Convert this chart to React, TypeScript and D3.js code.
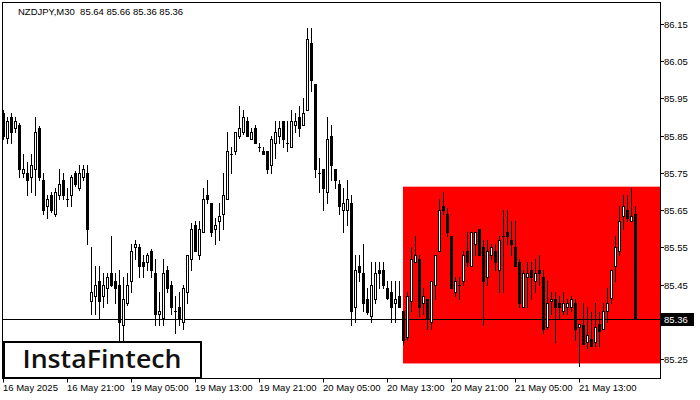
import React, { useEffect, useRef } from 'react';
import * as d3 from 'd3';

// header line
const title = 'NZDJPY,M30  85.64 85.66 85.36 85.36';

// M30 candles, 16 May 13:00 .. 21 May 14:00 (weekend gap after bar 21)
const opens = [
  85.91, 85.845, 85.90, 85.87, 85.88, 85.75, 85.75, 85.74, 85.76, 85.87,
  85.73, 85.66, 85.69, 85.64, 85.69, 85.73, 85.68, 85.69, 85.75, 85.71,
  85.74, 85.75, 85.405, 85.42, 85.46, 85.42, 85.44, 85.48, 85.46, 85.45,
  85.34, 85.40, 85.46, 85.55, 85.55, 85.51, 85.51, 85.54, 85.48, 85.37,
  85.36, 85.49, 85.45, 85.38, 85.39, 85.35, 85.43, 85.52, 85.61, 85.53,
  85.59, 85.69, 85.67, 85.60, 85.62, 85.64, 85.68, 85.80, 85.81, 85.85,
  85.86, 85.89, 85.84, 85.87, 85.82, 85.81, 85.81, 85.77, 85.83, 85.85,
  85.89, 85.83, 85.82, 85.88, 85.90, 85.88, 85.92, 86.10, 85.99, 85.75,
  85.76, 85.70, 85.85, 85.76, 85.72, 85.65, 85.65, 85.67, 85.39, 85.50,
  85.48, 85.41, 85.365, 85.41, 85.49, 85.49, 85.44, 85.43, 85.40, 85.42,
  85.38, 85.31, 85.405, 85.51, 85.52, 85.40, 85.41, 85.35, 85.45, 85.54,
  85.66, 85.64, 85.58, 85.43, 85.45, 85.46, 85.54, 85.50, 85.56, 85.60,
  85.55, 85.47, 85.53, 85.54, 85.49, 85.58, 85.59, 85.57, 85.55, 85.51,
  85.39, 85.47, 85.49, 85.46, 85.49, 85.47, 85.335, 85.405, 85.41, 85.40,
  85.38, 85.39, 85.39, 85.40, 85.335, 85.34, 85.295, 85.305, 85.295, 85.345,
  85.33, 85.38, 85.415, 85.50, 85.54, 85.635, 85.65, 85.62, 85.64,
];
const highs = [
  85.92, 85.90, 85.91, 85.90, 85.885, 85.80, 85.78, 85.80, 85.90, 85.875,
  85.75, 85.69, 85.70, 85.71, 85.76, 85.75, 85.71, 85.745, 85.755, 85.77,
  85.77, 85.77, 85.55, 85.50, 85.50, 85.48, 85.48, 85.58, 85.48, 85.49,
  85.47, 85.48, 85.56, 85.57, 85.56, 85.53, 85.535, 85.545, 85.52, 85.43,
  85.52, 85.50, 85.46, 85.42, 85.43, 85.45, 85.53, 85.615, 85.62, 85.62,
  85.71, 85.73, 85.67, 85.63, 85.67, 85.75, 85.86, 85.82, 85.86, 85.93,
  85.92, 85.90, 85.87, 85.88, 85.83, 85.82, 85.81, 85.85, 85.89, 85.89,
  85.89, 85.89, 85.92, 85.91, 85.93, 85.95, 86.14, 86.14, 85.99, 85.79,
  85.76, 85.90, 85.88, 85.76, 85.73, 85.71, 85.73, 85.69, 85.53, 85.53,
  85.56, 85.44, 85.51, 85.51, 85.51, 85.51, 85.46, 85.46, 85.46, 85.46,
  85.38, 85.43, 85.55, 85.58, 85.53, 85.44, 85.41, 85.46, 85.53, 85.68,
  85.70, 85.655, 85.58, 85.47, 85.47, 85.54, 85.59, 85.59, 85.59, 85.60,
  85.57, 85.57, 85.56, 85.56, 85.58, 85.65, 85.65, 85.62, 85.62, 85.52,
  85.49, 85.51, 85.51, 85.52, 85.53, 85.49, 85.46, 85.43, 85.43, 85.42,
  85.43, 85.41, 85.42, 85.41, 85.345, 85.40, 85.39, 85.375, 85.40, 85.375,
  85.40, 85.44, 85.49, 85.58, 85.66, 85.69, 85.69, 85.71, 85.66,
];
const lows = [
  85.84, 85.83, 85.83, 85.86, 85.74, 85.74, 85.69, 85.70, 85.69, 85.73,
  85.64, 85.63, 85.645, 85.635, 85.68, 85.68, 85.66, 85.66, 85.715, 85.705,
  85.73, 85.56, 85.37, 85.37, 85.36, 85.39, 85.40, 85.445, 85.40, 85.30,
  85.30, 85.395, 85.43, 85.52, 85.47, 85.47, 85.49, 85.47, 85.34, 85.34,
  85.34, 85.43, 85.37, 85.32, 85.34, 85.33, 85.40, 85.49, 85.54, 85.52,
  85.59, 85.67, 85.58, 85.56, 85.57, 85.60, 85.68, 85.75, 85.80, 85.845,
  85.855, 85.85, 85.84, 85.83, 85.81, 85.80, 85.75, 85.75, 85.79, 85.83,
  85.82, 85.81, 85.82, 85.86, 85.85, 85.88, 85.92, 85.97, 85.74, 85.70,
  85.65, 85.67, 85.73, 85.71, 85.64, 85.59, 85.61, 85.34, 85.35, 85.46,
  85.38, 85.37, 85.35, 85.40, 85.44, 85.44, 85.41, 85.35, 85.35, 85.39,
  85.29, 85.30, 85.38, 85.51, 85.365, 85.37, 85.33, 85.33, 85.41, 85.54,
  85.64, 85.58, 85.44, 85.42, 85.41, 85.45, 85.50, 85.50, 85.53, 85.53,
  85.34, 85.45, 85.52, 85.49, 85.43, 85.43, 85.56, 85.53, 85.50, 85.39,
  85.39, 85.39, 85.41, 85.43, 85.45, 85.32, 85.33, 85.37, 85.295, 85.36,
  85.37, 85.37, 85.38, 85.30, 85.23, 85.29, 85.28, 85.285, 85.285, 85.285,
  85.33, 85.35, 85.40, 85.46, 85.53, 85.60, 85.62, 85.62, 85.36,
];
const closes = [
  85.85, 85.89, 85.86, 85.89, 85.76, 85.76, 85.73, 85.77, 85.86, 85.74,
  85.65, 85.68, 85.65, 85.70, 85.72, 85.69, 85.68, 85.74, 85.72, 85.75,
  85.76, 85.60, 85.43, 85.45, 85.405, 85.45, 85.47, 85.45, 85.44, 85.35,
  85.41, 85.45, 85.54, 85.56, 85.50, 85.50, 85.53, 85.49, 85.37, 85.38,
  85.48, 85.44, 85.39, 85.38, 85.36, 85.44, 85.53, 85.60, 85.54, 85.60,
  85.68, 85.68, 85.59, 85.61, 85.635, 85.69, 85.81, 85.80, 85.86, 85.87,
  85.90, 85.85, 85.86, 85.83, 85.82, 85.80, 85.76, 85.84, 85.86, 85.87,
  85.84, 85.83, 85.89, 85.89, 85.87, 85.91, 86.11, 86.00, 85.76, 85.75,
  85.71, 85.84, 85.77, 85.73, 85.66, 85.67, 85.68, 85.38, 85.49, 85.485,
  85.40, 85.375, 85.45, 85.48, 85.48, 85.45, 85.415, 85.39, 85.41, 85.39,
  85.30, 85.42, 85.52, 85.53, 85.39, 85.42, 85.36, 85.46, 85.53, 85.65,
  85.65, 85.59, 85.44, 85.46, 85.45, 85.53, 85.51, 85.59, 85.59, 85.53,
  85.46, 85.54, 85.55, 85.51, 85.57, 85.58, 85.58, 85.56, 85.50, 85.40,
  85.48, 85.48, 85.47, 85.48, 85.48, 85.33, 85.40, 85.41, 85.39, 85.39,
  85.40, 85.40, 85.41, 85.33, 85.345, 85.29, 85.315, 85.285, 85.335, 85.325,
  85.38, 85.40, 85.49, 85.55, 85.62, 85.66, 85.63, 85.635, 85.36,
];

const timeLabels = [
  '16 May 2025', '16 May 21:00', '19 May 05:00', '19 May 13:00', '19 May 21:00',
  '20 May 05:00', '20 May 13:00', '20 May 21:00', '21 May 05:00', '21 May 13:00',
];
const timeLabelBars = [0, 16, 32, 48, 64, 80, 96, 112, 128, 144];
const priceTicks = [86.15, 86.05, 85.95, 85.85, 85.75, 85.65, 85.55, 85.45, 85.25];
const lastPrice = 85.36;
// red zone
const zoneStartBar = 100;
const zoneTop = 85.713;
const zoneBottom = 85.238;

const W = 700;
const H = 400;

const App: React.FC = () => {
  const ref = useRef<SVGSVGElement>(null);

  useEffect(() => {
    document.body.style.margin = '0';
    const svg = d3.select(ref.current);
    svg.selectAll('*').remove();

    const left = 2.5, right = 660.5, top = 2.5, bottom = 378.5;
    const font = '"Liberation Sans", Arial, sans-serif';

    const x = d3.scaleLinear().domain([0, opens.length - 1]).range([3.5, 3.5 + 4 * (opens.length - 1)]);
    const y = d3.scaleLinear().domain([85.25, 86.15]).range([359, 24]);
    const py = (v: number) => Math.round(y(v));

    svg.append('rect').attr('width', W).attr('height', H).attr('fill', '#fff');

    svg.append('defs').append('clipPath').attr('id', 'plot')
      .append('rect').attr('x', left).attr('y', top).attr('width', right - left).attr('height', bottom - top);

    const plot = svg.append('g').attr('clip-path', 'url(#plot)');

    // zone
    plot.append('rect')
      .attr('x', x(zoneStartBar) - 0.5)
      .attr('y', y(zoneTop))
      .attr('width', right - (x(zoneStartBar) - 0.5))
      .attr('height', y(zoneBottom) - y(zoneTop))
      .attr('fill', '#ff0000');

    // last price line
    const ly = Math.ceil(y(lastPrice)) + 0.5;
    plot.append('line')
      .attr('x1', left).attr('x2', right).attr('y1', ly).attr('y2', ly)
      .attr('stroke', '#000').attr('stroke-width', 1);

    // candles
    const idx = d3.range(opens.length);
    const g = plot.append('g');
    g.selectAll('line.wick').data(idx).join('line')
      .attr('class', 'wick')
      .attr('x1', (i) => x(i)).attr('x2', (i) => x(i))
      .attr('y1', (i) => py(highs[i])).attr('y2', (i) => py(lows[i]) + 1)
      .attr('stroke', '#000').attr('stroke-width', 1);

    idx.forEach((i) => {
      const o = py(opens[i]);
      const c = py(closes[i]);
      const cx = x(i);
      if (o === c) {
        g.append('rect').attr('x', cx - 1.5).attr('y', o).attr('width', 3).attr('height', 1).attr('fill', '#000');
      } else if (closes[i] > opens[i]) {
        g.append('rect')
          .attr('x', cx - 1).attr('y', c + 0.5)
          .attr('width', 2).attr('height', o - c)
          .attr('fill', '#fff').attr('stroke', '#000').attr('stroke-width', 1);
      } else {
        g.append('rect')
          .attr('x', cx - 1.5).attr('y', o)
          .attr('width', 3).attr('height', c - o + 1)
          .attr('fill', '#000');
      }
    });

    // frame
    svg.append('rect')
      .attr('x', left).attr('y', top).attr('width', right - left).attr('height', bottom - top)
      .attr('fill', 'none').attr('stroke', '#000').attr('stroke-width', 1);

    // title
    svg.append('text')
      .attr('x', 18).attr('y', 15)
      .attr('font-family', font).attr('font-size', 9.5)
      .attr('fill', '#000')
      .style('white-space', 'pre')
      .text(title);

    // price axis
    const pa = svg.append('g');
    priceTicks.forEach((p) => {
      const ty = py(p) + 0.5;
      pa.append('line').attr('x1', right).attr('x2', right + 3.5).attr('y1', ty).attr('y2', ty).attr('stroke', '#000');
      pa.append('text').attr('x', 664).attr('y', ty).attr('dy', '0.35em')
        .attr('font-family', font).attr('font-size', 9.5).attr('fill', '#000')
        .text(d3.format('.2f')(p));
    });
    pa.append('rect').attr('x', 661).attr('y', ly - 6.5).attr('width', 33).attr('height', 13).attr('fill', '#000');
    pa.append('text').attr('x', 664).attr('y', ly).attr('dy', '0.35em')
      .attr('font-family', font).attr('font-size', 9.5).attr('fill', '#fff')
      .text(d3.format('.2f')(lastPrice));

    // time axis
    const ta = svg.append('g');
    timeLabelBars.forEach((b, k) => {
      const tx = Math.round(x(b)) - 0.5;
      ta.append('line').attr('x1', tx).attr('x2', tx).attr('y1', bottom).attr('y2', bottom + 4).attr('stroke', '#000');
      ta.append('text').attr('x', tx - 0.5).attr('y', 391)
        .attr('font-family', font).attr('font-size', 9.5).attr('fill', '#000')
        .text(timeLabels[k]);
    });

    // logo
    const logo = svg.append('g');
    logo.append('rect').attr('x', 4).attr('y', 342).attr('width', 197).attr('height', 36)
      .attr('fill', '#fff').attr('stroke', '#000').attr('stroke-width', 2);
    logo.append('text').attr('x', 22.5).attr('y', 367.5)
      .attr('font-family', '"Open Sans", sans-serif').attr('font-weight', 600).attr('font-size', 25)
      .attr('textLength', 159).attr('lengthAdjust', 'spacingAndGlyphs')
      .attr('fill', '#111')
      .text('InstaFintech');
  }, []);

  return <svg ref={ref} width={W} height={H} style={{ display: 'block', position: 'absolute', left: 0, top: 0 }} />;
};

export default App;
